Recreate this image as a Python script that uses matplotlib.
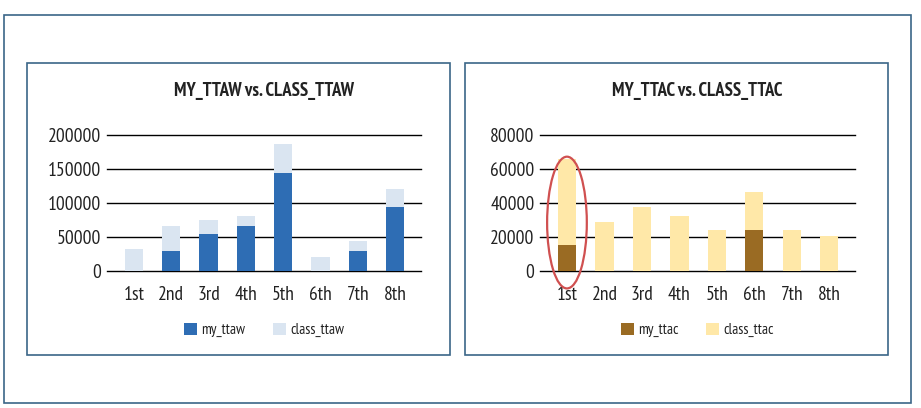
import matplotlib
matplotlib.use("Agg")
import matplotlib.pyplot as plt
from matplotlib.patches import Rectangle, Ellipse
import numpy as np

plt.rcParams["font.family"] = ["PT Sans Narrow", "DejaVu Sans"]

# ---- data ----
grades = ["1st", "2nd", "3rd", "4th", "5th", "6th", "7th", "8th"]

my_ttaw = [0, 29000, 54500, 66800, 144800, 0, 29000, 94300]
class_ttaw = [33000, 66300, 75100, 81500, 187000, 20600, 44200, 120800]
ttaw_ticks = [0, 50000, 100000, 150000, 200000]

my_ttac = [15300, 0, 0, 0, 0, 24200, 0, 0]
class_ttac = [65900, 28900, 37700, 32600, 24200, 46600, 24200, 20600]
ttac_ticks = [0, 20000, 40000, 60000, 80000]

W, H = 921, 408
BORDER = "#3B6688"

fig = plt.figure(figsize=(W / 100, H / 100), dpi=100)


def fx(px):
    return px / W


def fy(py):
    return 1 - py / H


def box(x0, y0, x1, y1, lw=1.2):
    fig.patches.append(Rectangle((fx(x0), fy(y1)), fx(x1 - x0), (y1 - y0) / H,
                                 transform=fig.transFigure, fill=False,
                                 edgecolor=BORDER, linewidth=lw))


# frames
box(4, 15, 911, 403)
box(27, 63, 450, 355)
box(465, 63, 888, 355)


def panel(x0, x1, title, my, cls, ticks, c_my, c_cls, lab_my, lab_cls, colsp):
    ax = fig.add_axes([fx(x0), fy(271), fx(x1 - x0), 136 / H])
    x = np.arange(len(grades))
    ax.bar(x, cls, width=0.49, color=c_cls, zorder=2, label=lab_cls)
    ax.bar(x, my, width=0.49, color=c_my, zorder=3, label=lab_my)
    ax.set_xlim(-0.72, 7.69)
    ax.set_ylim(0, ticks[-1])
    ax.set_yticks(ticks)
    ax.set_yticklabels([str(t) for t in ticks])
    ax.set_xticks(x)
    ax.set_xticklabels(grades)
    for t in ticks:
        ax.axhline(t, color="black", linewidth=1.0, zorder=1, clip_on=False)
    for s in ax.spines.values():
        s.set_visible(False)
    ax.tick_params(axis="y", length=0, pad=4, labelsize=14, colors="#222222")
    ax.tick_params(axis="x", length=0, pad=11, labelsize=14, colors="#222222")
    fig.text(fx((x0 + x1) / 2), fy(91), title, ha="center", va="center",
             fontsize=13.5, fontweight="bold", color="#222222")
    handles, labels = ax.get_legend_handles_labels()
    ax.legend(handles[::-1], labels[::-1], loc="center",
              bbox_to_anchor=(0.5, (271 - 330) / 136), ncol=2, frameon=False,
              handlelength=0.85, handleheight=0.85, handletextpad=0.3,
              columnspacing=colsp, fontsize=11, labelcolor="#222222")
    return ax


panel(107, 421, "MY_TTAW vs. CLASS_TTAW", my_ttaw, class_ttaw, ttaw_ticks,
      "#2E6DB4", "#DAE5F1", "my_ttaw", "class_ttaw", 1.8)
ax2 = panel(540, 855, "MY_TTAC vs. CLASS_TTAC", my_ttac, class_ttac, ttac_ticks,
            "#9A6B23", "#FFE8A8", "my_ttac", "class_ttac", 1.8)

# red ellipse around the 1st grade bar
ax2.add_patch(Ellipse((0, 28500), 1.06, 77500, fill=False, edgecolor="#D05050",
                      linewidth=1.6, zorder=4, clip_on=False))

fig.savefig("out.png", dpi=100)
